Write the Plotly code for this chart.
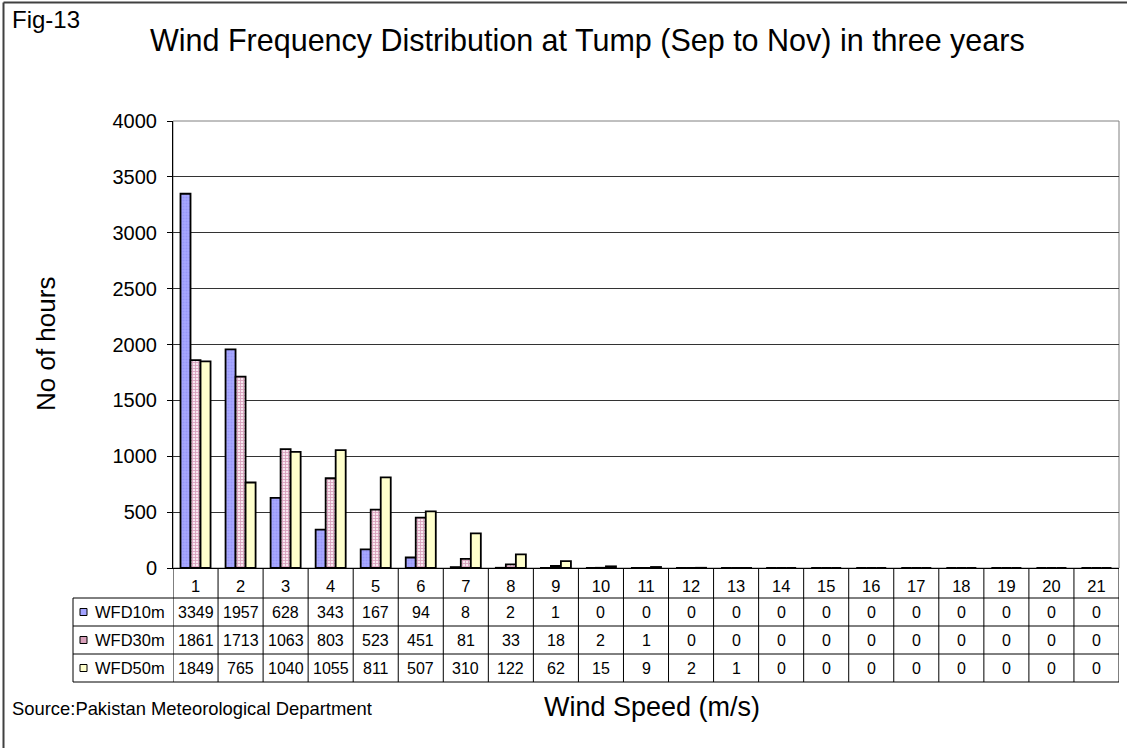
import plotly.graph_objects as go

categories = list(range(1, 22))
series_names = ["WFD10m", "WFD30m", "WFD50m"]
wfd10 = [3349, 1957, 628, 343, 167, 94, 8, 2, 1, 0, 0, 0, 0, 0, 0, 0, 0, 0, 0, 0, 0]
wfd30 = [1861, 1713, 1063, 803, 523, 451, 81, 33, 18, 2, 1, 0, 0, 0, 0, 0, 0, 0, 0, 0, 0]
wfd50 = [1849, 765, 1040, 1055, 811, 507, 310, 122, 62, 15, 9, 2, 1, 0, 0, 0, 0, 0, 0, 0, 0]
series_values = [wfd10, wfd30, wfd50]
y_ticks = [0, 500, 1000, 1500, 2000, 2500, 3000, 3500, 4000]

FONT = "Liberation Sans, Arial, sans-serif"
W, H = 1127, 748
L, R, T, B = 173, 8, 121, 180
PW, PH = W - L - R, H - T - B


def px(x):
    return (x - L) / PW


def py(y):
    return (H - B - y) / PH


styles = [
    dict(color="#A3A3FF", pattern=dict(shape=".", fgcolor="#8585F0", bgcolor="#A8A8FF", size=3, solidity=0.4)),
    dict(color="#E0A8C0", pattern=dict(shape="+", fgcolor="#B85C88", bgcolor="#F8E8F0", size=3, solidity=0.5)),
    dict(color="#FFFFCC"),
]
key_colors = ["#A3A3FF", "#D9A0BA", "#FFFFCC"]

fig = go.Figure()
for name, vals, st in zip(series_names, series_values, styles):
    marker = dict(color=st["color"], line=dict(color="black", width=1.8))
    if "pattern" in st:
        marker["pattern"] = st["pattern"]
    fig.add_trace(go.Bar(x=categories, y=vals, name=name, marker=marker))

shapes = []
annotations = []

# plot-area border (grey)
shapes.append(dict(type="rect", xref="paper", yref="paper", x0=0, x1=1, y0=0, y1=1,
                   line=dict(color="#808080", width=1), layer="below"))

# table rows
row_lines = [598, 626, 654, 682]
for yl in row_lines:
    shapes.append(dict(type="line", xref="paper", yref="paper", x0=px(73), x1=1, y0=py(yl), y1=py(yl),
                       line=dict(color="black", width=1)))
# left edge of legend column
shapes.append(dict(type="line", xref="paper", yref="paper", x0=px(73), x1=px(73), y0=py(598), y1=py(682),
                   line=dict(color="black", width=1)))
# category boundaries
for k in range(len(categories) + 1):
    xb = categories[0] - 0.5 + k
    shapes.append(dict(type="line", xref="x", yref="paper", x0=xb, x1=xb, y0=0, y1=py(682),
                       line=dict(color="black", width=1)))

row_centers = [612, 640, 668]
for name, vals, kc, yc in zip(series_names, series_values, key_colors, row_centers):
    shapes.append(dict(type="rect", xref="paper", yref="paper", x0=px(80), x1=px(87),
                       y0=py(yc + 3.5), y1=py(yc - 3.5), fillcolor=kc, line=dict(color="black", width=1)))
    annotations.append(dict(text=name, xref="paper", yref="paper", x=px(93), y=py(yc), xanchor="left",
                            yanchor="middle", showarrow=False, font=dict(family=FONT, size=16.5, color="black")))
    for c, v in zip(categories, vals):
        annotations.append(dict(text=str(v), xref="x", yref="paper", x=c, y=py(yc), xanchor="center",
                                yanchor="middle", showarrow=False, font=dict(family=FONT, size=16, color="black")))

# outer frame
shapes.append(dict(type="line", xref="paper", yref="paper", x0=px(3.5), x1=px(3.5), y0=py(2.5), y1=py(748),
                   line=dict(color="#404040", width=2)))
shapes.append(dict(type="line", xref="paper", yref="paper", x0=px(3.5), x1=px(1130), y0=py(2.5), y1=py(2.5),
                   line=dict(color="#404040", width=2)))

# texts
annotations += [
    dict(text="Fig-13", xref="paper", yref="paper", x=px(10), y=py(19), xanchor="left", yanchor="middle",
         showarrow=False, font=dict(family=FONT, size=24, color="black")),
    dict(text="Wind Frequency Distribution at Tump (Sep to Nov) in three years", xref="paper", yref="paper",
         x=px(587), y=py(41), xanchor="center", yanchor="middle", showarrow=False,
         font=dict(family=FONT, size=30.5, color="black")),
    dict(text="No of hours", xref="paper", yref="paper", x=px(46), y=py(344), xanchor="center",
         yanchor="middle", textangle=-90, showarrow=False, font=dict(family=FONT, size=26, color="black")),
    dict(text="Wind Speed (m/s)", xref="paper", yref="paper", x=px(652), y=py(707), xanchor="center",
         yanchor="middle", showarrow=False, font=dict(family=FONT, size=27, color="black")),
    dict(text="Source:Pakistan Meteorological Department", xref="paper", yref="paper", x=px(10), y=py(708),
         xanchor="left", yanchor="middle", showarrow=False, font=dict(family=FONT, size=18.4, color="black")),
]

fig.update_layout(
    width=W, height=H,
    margin=dict(l=L, r=R, t=T, b=B, pad=0),
    paper_bgcolor="white", plot_bgcolor="white",
    barmode="group", bargap=0.333, bargroupgap=0,
    showlegend=False,
    shapes=shapes, annotations=annotations,
    font=dict(family=FONT, color="black"),
)
fig.update_xaxes(
    range=[0.5, 21.5], tickmode="array", tickvals=categories, ticktext=[str(c) for c in categories],
    ticks="", showgrid=False, showline=True, linecolor="black", linewidth=1,
    tickfont=dict(family=FONT, size=16.5, color="black"), ticklabelstandoff=3, zeroline=False,
)
fig.update_yaxes(
    range=[0, 4000], tickmode="array", tickvals=y_ticks, ticks="outside", ticklen=5, tickcolor="black",
    showline=True, linecolor="black", linewidth=1, showgrid=True, gridcolor="#333333", gridwidth=1,
    zeroline=False, tickfont=dict(family=FONT, size=20, color="black"), ticklabelstandoff=6,
)

fig.write_html("out.html", config={"displayModeBar": False},
               post_script="document.body.style.margin='0';")
